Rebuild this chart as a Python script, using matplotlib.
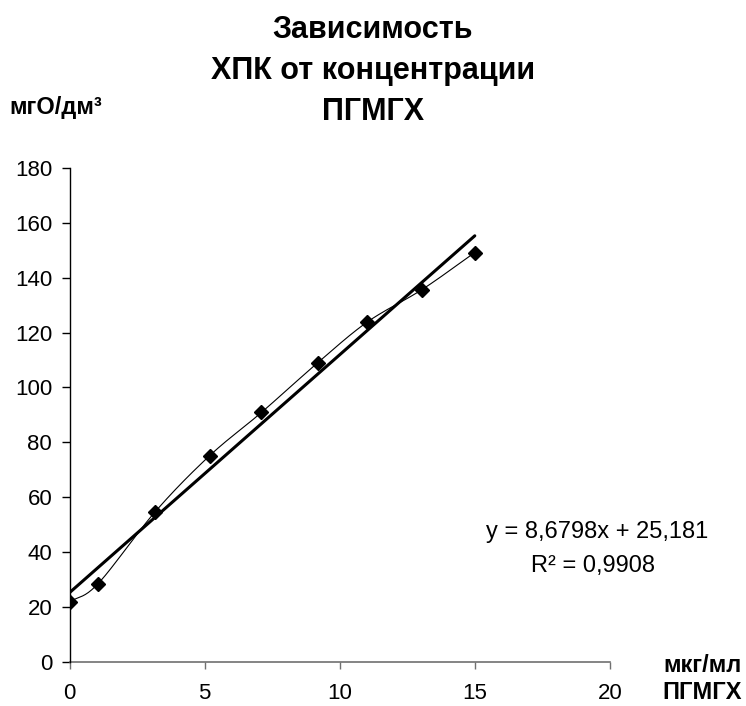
import matplotlib
matplotlib.use("Agg")
import matplotlib.pyplot as plt
import numpy as np

plt.rcParams['font.family'] = ['Liberation Sans', 'DejaVu Sans']

# concentration, mkg/ml
conc = [0.0, 1.05, 3.17, 5.18, 7.1, 9.18, 11.02, 13.04, 14.99]
# COD, mgO/dm3
cod = [21.8, 28.4, 54.7, 75.1, 90.9, 109.0, 123.9, 135.7, 149.2]

slope = 8.6798
intercept = 25.181
r2 = 0.9908

xticks = [0, 5, 10, 15, 20]
yticks = [0, 20, 40, 60, 80, 100, 120, 140, 160, 180]

title_lines = ["Зависимость", "ХПК от концентрации", "ПГМГХ"]


def smooth(x, y, n=20):
    # catmull-rom curve through the points (like excel "smoothed line")
    x = np.asarray(x)
    y = np.asarray(y)
    px = np.concatenate([[2 * x[0] - x[1]], x, [2 * x[-1] - x[-2]]])
    py = np.concatenate([[2 * y[0] - y[1]], y, [2 * y[-1] - y[-2]]])
    ox, oy = [], []
    for i in range(1, len(px) - 2):
        t = np.linspace(0, 1, n)
        for p, out in ((px, ox), (py, oy)):
            p0, p1, p2, p3 = p[i - 1], p[i], p[i + 1], p[i + 2]
            out.extend(0.5 * ((2 * p1) + (-p0 + p2) * t
                              + (2 * p0 - 5 * p1 + 4 * p2 - p3) * t ** 2
                              + (-p0 + 3 * p1 - 3 * p2 + p3) * t ** 3))
    return ox, oy


fig = plt.figure(figsize=(7.46, 7.06), dpi=100)
ax = fig.add_axes([0.0932, 0.0627, 0.7248, 0.6993])

sx, sy = smooth(conc, cod)
ax.plot(sx, sy, color="black", lw=0.8, zorder=2)
ax.plot(conc, cod, "D", color="black", markersize=7.5, zorder=3)

tx = np.array([0, max(conc)])
ax.plot(tx, slope * tx + intercept, color="black", lw=2.2, zorder=4,
        solid_capstyle="round")

ax.set_xlim(0, 20)
ax.set_ylim(0, 180)
ax.set_xticks(xticks)
ax.set_yticks(yticks)
for s in ["top", "right"]:
    ax.spines[s].set_visible(False)
ax.spines["left"].set_linewidth(1)
ax.spines["bottom"].set_color("#707070")
ax.spines["bottom"].set_linewidth(1.2)
ax.tick_params(axis="y", direction="out", length=5.5, width=1, labelsize=16, pad=7)
ax.tick_params(axis="x", direction="out", length=5, width=1, colors="#707070",
               labelcolor="black", labelsize=16, pad=10)
ax.spines["left"].set_zorder(5)
for sp in ax.spines.values():
    sp.set_clip_on(False)

for i, line in enumerate(title_lines):
    fig.text(0.5, 1 - (38 + 41 * i) / 706, line, ha="center", va="baseline",
             fontsize=22, fontweight="bold")

fig.text(0.013, 0.848, "мгО/дм³", ha="left", va="center", fontsize=17,
         fontweight="bold")
fig.text(0.994, 0.058, "мкг/мл", ha="right", va="center", fontsize=17,
         fontweight="bold")
fig.text(0.994, 0.019, "ПГМГХ", ha="right", va="center", fontsize=17,
         fontweight="bold")

eq = "y = %sx + %s" % (str(slope).replace(".", ","), str(intercept).replace(".", ","))
fig.text(0.80, 0.2465, eq, ha="center", va="center", fontsize=17)
fig.text(0.795, 0.198, "R² = " + str(r2).replace(".", ","), ha="center",
         va="center", fontsize=17)

fig.savefig("out.png", dpi=100)
